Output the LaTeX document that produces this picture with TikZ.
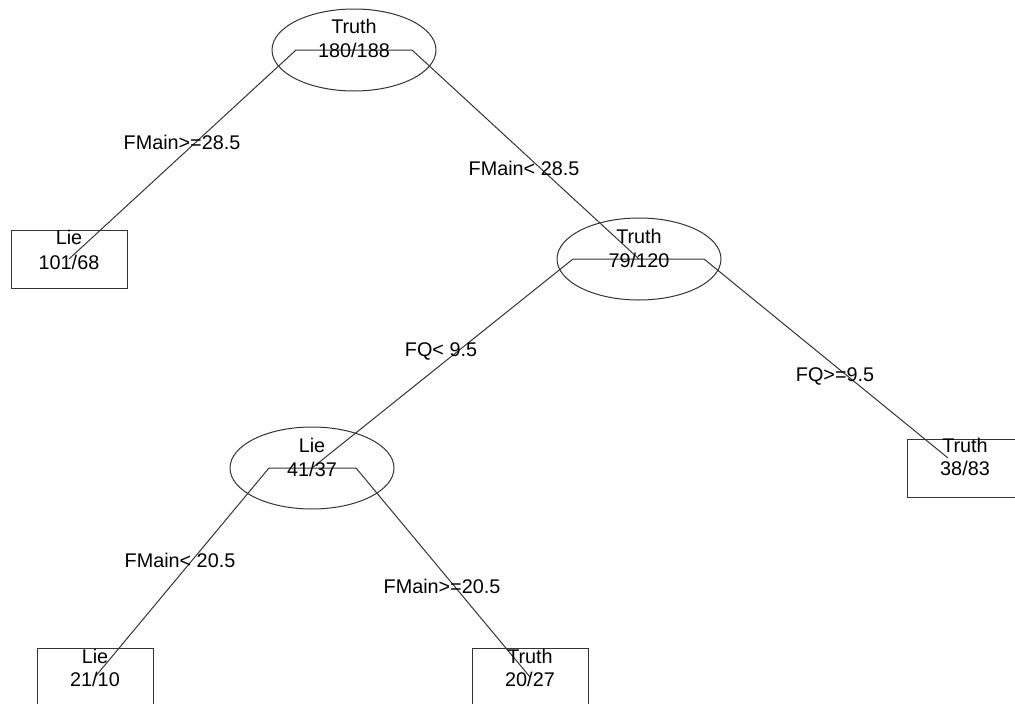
\documentclass[tikz,border=0pt]{standalone}
\usepackage{fontspec}
\setmainfont{Liberation Sans}
\usetikzlibrary{shapes.geometric}
\begin{document}
\begin{tikzpicture}[x=1pt,y=-1pt,
  edge/.style={draw=black!80,line width=1pt},
  split/.style={ellipse,draw=black!80,line width=1pt,minimum width=164pt,minimum height=82pt,inner sep=0pt},
  leaf/.style={rectangle,draw=black!80,line width=1pt,minimum width=116pt,minimum height=58pt,inner sep=0pt},
  cls/.style={font=\fontsize{19.8}{22}\selectfont,inner sep=0pt,anchor=center},
  cond/.style={font=\fontsize{19.8}{22}\selectfont,inner sep=0pt,anchor=center}]
\useasboundingbox (0,0) rectangle (1015,704);

% node positions
\coordinate (n1) at (354,50);
\coordinate (n2) at (639,259);
\coordinate (n3) at (312,468);
\coordinate (l1) at (69,259);
\coordinate (l2) at (965,468);
\coordinate (l3) at (95,677);
\coordinate (l4) at (530,677);

% shoulders of the branches
\coordinate (n1a) at (296,50);
\coordinate (n1b) at (412,50);
\coordinate (n2a) at (573,259);
\coordinate (n2b) at (704,259);
\coordinate (n3a) at (269,468);
\coordinate (n3b) at (356,468);
\coordinate (e2) at (948,458);

% shapes
\node[split] (s1) at (n1) {};
\node[split] (s2) at (n2) {};
\node[split] (s3) at (n3) {};
\node[leaf] (b1) at (l1) {};
\node[leaf] (b2) at (l2) {};
\node[leaf] (b3) at (l3) {};
\node[leaf] (b4) at (l4) {};

% branches
\draw[edge] (l1) -- (n1a) -- (n1b) -- (n2);
\draw[edge] (n3) -- (n2a) -- (n2b) -- (e2);
\draw[edge] (l3) -- (n3a) -- (n3b) -- (l4);

% class labels and counts
\node[cls] (t1) at (354,26) {Truth};
\node[cls] (c1) at (354,50) {180/188};
\node[cls] (t2) at (639,236) {Truth};
\node[cls] (c2) at (639,260) {79/120};
\node[cls] (t3) at (312,445) {Lie};
\node[cls] (c3) at (312,469) {41/37};
\node[cls] (t4) at (69,237) {Lie};
\node[cls] (c4) at (69,262) {101/68};
\node[cls] (t5) at (965,445) {Truth};
\node[cls] (c5) at (965,468) {38/83};
\node[cls] (t6) at (95,656) {Lie};
\node[cls] (c6) at (95,679) {21/10};
\node[cls] (t7) at (530,656) {Truth};
\node[cls] (c7) at (530,679) {20/27};

% split conditions
\node[cond] (q1) at (182,142) {FMain>=28.5};
\node[cond] (q2) at (524,168) {FMain< 28.5};
\node[cond] (q3) at (441,351) {FQ< 9.5};
\node[cond] (q4) at (835,376) {FQ>=9.5};
\node[cond] (q5) at (180,560) {FMain< 20.5};
\node[cond] (q6) at (442,586) {FMain>=20.5};
\end{tikzpicture}
\end{document}
